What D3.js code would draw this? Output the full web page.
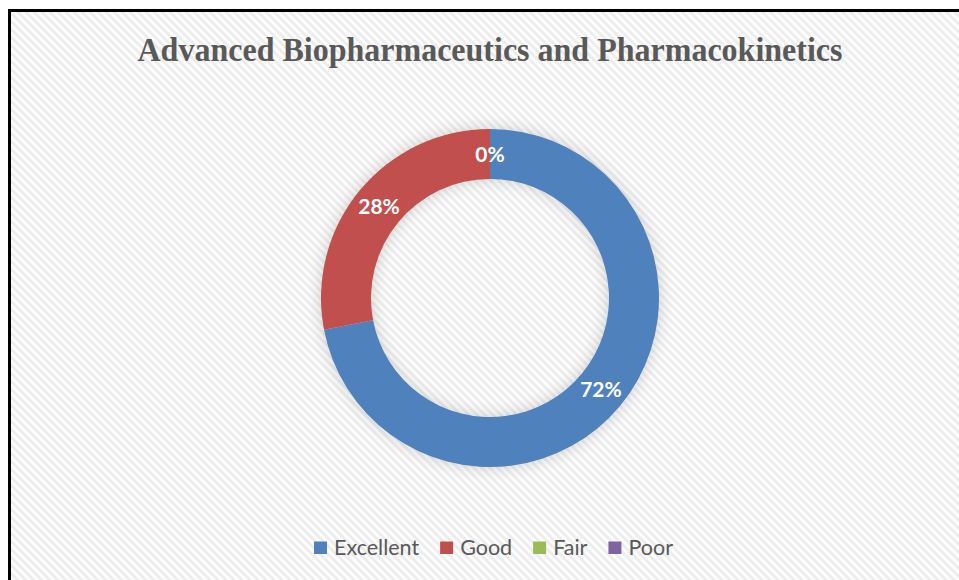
<!DOCTYPE html>
<html>
<head>
<meta charset="utf-8">
<script src="https://cdn.jsdelivr.net/npm/d3@7"></script>
<style>
  html, body { margin: 0; padding: 0; background: #ffffff; }
  svg { display: block; }
</style>
</head>
<body>
<svg id="chart" width="959" height="580"></svg>
<script>
// Rating shares for the course
const title = "Advanced Biopharmaceutics and Pharmacokinetics";
const categories = ["Excellent", "Good", "Fair", "Poor"];
const values = [72, 28, 0, 0];
const colors = ["#4f81bd", "#c0504d", "#9bbb59", "#8064a2"];

const W = 959, H = 580;
const svg = d3.select("#chart");
const defs = svg.append("defs");

// Diagonal hatch background (stripes running down to the right)
const P = 5.66;
const pat = defs.append("pattern")
  .attr("id", "hatch")
  .attr("patternUnits", "userSpaceOnUse")
  .attr("width", P).attr("height", P)
  .attr("patternTransform", "rotate(45)");
pat.append("rect").attr("width", P).attr("height", P).attr("fill", "#fdfdfd");
pat.append("rect").attr("width", P).attr("height", P / 2).attr("fill", "#ededed");

// Soft shadow under the ring
const f = defs.append("filter").attr("id", "shadow")
  .attr("x", "-20%").attr("y", "-20%").attr("width", "140%").attr("height", "140%");
f.append("feGaussianBlur").attr("in", "SourceAlpha").attr("stdDeviation", 8).attr("result", "b");
f.append("feComponentTransfer").attr("in", "b").attr("result", "s")
  .append("feFuncA").attr("type", "linear").attr("slope", 0.18);
const m = f.append("feMerge");
m.append("feMergeNode").attr("in", "s");
m.append("feMergeNode").attr("in", "SourceGraphic");

// Chart area with frame
svg.append("rect")
  .attr("x", 9.5).attr("y", 10.5)
  .attr("width", W + 20).attr("height", H + 20)
  .attr("fill", "url(#hatch)")
  .attr("stroke", "#000").attr("stroke-width", 3);

svg.append("text")
  .attr("x", 490).attr("y", 60.5)
  .attr("text-anchor", "middle")
  .attr("font-family", "'Liberation Serif', 'Times New Roman', serif")
  .attr("font-weight", "bold")
  .attr("font-size", 33)
  .attr("textLength", 705)
  .attr("lengthAdjust", "spacingAndGlyphs")
  .attr("fill", "#595959")
  .text(title);

// Donut
const cx = 490, cy = 298, R = 169, r = 119;
const pie = d3.pie().sort(null).value(d => d.v);
const arcs = pie(categories.map((c, i) => ({ c, v: values[i], col: colors[i] })));
const arc = d3.arc().innerRadius(r).outerRadius(R);
const g = svg.append("g").attr("transform", `translate(${cx},${cy})`);

g.append("g").attr("filter", "url(#shadow)")
  .selectAll("path")
  .data(arcs.filter(d => d.data.v > 0))
  .join("path")
  .attr("d", arc)
  .attr("fill", d => d.data.col);

// Value labels at slice centroids (zero slices share one spot)
const labelArc = d3.arc().innerRadius((R + r) / 2).outerRadius((R + r) / 2);
const seen = new Set();
const labels = arcs.filter(d => {
  const k = labelArc.centroid(d).map(v => Math.round(v)).join(",");
  if (seen.has(k)) return false;
  seen.add(k);
  return true;
});
g.selectAll("text.val")
  .data(labels)
  .join("text")
  .attr("class", "val")
  .attr("transform", d => `translate(${labelArc.centroid(d)})`)
  .attr("text-anchor", "middle")
  .attr("dy", "0.36em")
  .attr("font-family", "Lato, 'Open Sans', sans-serif")
  .attr("font-weight", "bold")
  .attr("font-size", 21)
  .attr("fill", "#ffffff")
  .text(d => d3.format(".0%")(d.data.v / d3.sum(values)));

// Legend
const lg = svg.append("g");
const fontL = "Lato, 'Open Sans', sans-serif";
let x = 314;
categories.forEach((c, i) => {
  lg.append("rect").attr("x", x).attr("y", 541.5).attr("width", 13).attr("height", 12.5).attr("fill", colors[i]);
  const t = lg.append("text")
    .attr("x", x + 20).attr("y", 555)
    .attr("font-family", fontL)
    .attr("font-size", 21.5)
    .attr("fill", "#595959")
    .text(c);
  x += 20 + t.node().getComputedTextLength() + 21;
});
</script>
</body>
</html>
